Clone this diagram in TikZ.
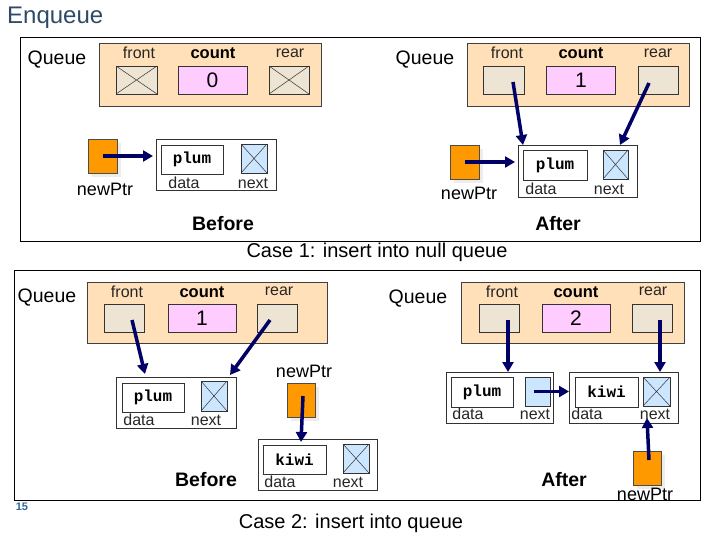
\documentclass[tikz,border=0pt]{standalone}
\usepackage{fontspec}
\setmainfont{Liberation Sans}
\setmonofont{Liberation Mono}
\usetikzlibrary{arrows.meta,shadows}
\definecolor{structfill}{HTML}{FFE0B8}
\definecolor{ptrfill}{HTML}{EEE4D3}
\definecolor{cntfill}{HTML}{FFCCFF}
\definecolor{nextfill}{HTML}{CCE6FF}
\definecolor{orangesq}{HTML}{FF9900}
\definecolor{navy}{HTML}{000066}
\definecolor{titleblue}{HTML}{2F4A66}
\definecolor{pageblue}{HTML}{336699}
\tikzset{
  box/.style={rectangle,inner sep=0pt,outer sep=0pt},
  frame/.style={draw=black,line width=0.9pt},
  qstruct/.style={box,draw=black!75,line width=0.6pt,fill=structfill},
  xcross/.style={path picture={\draw[black!80,line width=0.5pt]
     (path picture bounding box.north west)--(path picture bounding box.south east)
     (path picture bounding box.south west)--(path picture bounding box.north east);}},
  ptrbox/.style={box,draw=black!80,line width=0.6pt,fill=ptrfill},
  cntbox/.style={box,draw=black!80,line width=0.6pt,fill=cntfill,font=\fontsize{21}{23}\selectfont},
  nodebox/.style={box,draw=black!80,line width=0.7pt,fill=white},
  databox/.style={box,draw=black!80,line width=0.7pt,fill=white,font=\fontsize{16}{18}\selectfont\ttfamily\bfseries},
  nextbox/.style={box,draw=black!80,line width=0.6pt,fill=nextfill},
  sq/.style={box,draw=black!70,line width=0.6pt,fill=orangesq,minimum width=29pt,minimum height=34pt,
     drop shadow={fill=black!7,shadow xshift=4pt,shadow yshift=-4pt,opacity=1}},
  flabel/.style={inner sep=0pt,font=\fontsize{16}{18}\selectfont,text=black!85},
  clabel/.style={inner sep=0pt,font=\fontsize{16.5}{18}\selectfont\bfseries},
  qlabel/.style={inner sep=0pt,font=\fontsize{19.5}{21}\selectfont},
  plabel/.style={inner sep=0pt,font=\fontsize{18}{20}\selectfont},
  blabel/.style={inner sep=0pt,font=\fontsize{19.5}{21}\selectfont\bfseries},
  caselabel/.style={inner sep=0pt,font=\fontsize{20}{22}\selectfont},
  arr/.style={draw=navy,line width=3.5pt,-{Triangle[length=10pt,width=11pt]}},
}
\begin{document}
\begin{tikzpicture}[x=1pt,y=-1pt]
\useasboundingbox (0,0) rectangle (720,540);
% title
\node[anchor=west,inner sep=0pt,font=\fontsize{24}{26}\selectfont,text=titleblue] (title) at (7,18) {Enqueue};
% frames
\draw[frame] (20,37) rectangle (700,241);
\draw[frame] (14,270) rectangle (700,500);

% ===== Case 1 Before =====
\node[qlabel] (qA) at (57,60) {Queue};
\node[qstruct,minimum width=222pt,minimum height=63pt] (sA) at (210,74.5) {};
\node[flabel] (fAl) at (139,53) {front};
\node[ptrbox,xcross,minimum width=41pt,minimum height=28pt] (fA) at (136.5,80) {};
\node[clabel] (cAl) at (213,53) {count};
\node[cntbox,minimum width=69pt,minimum height=28pt] (cA) at (212.5,80) {0};
\node[flabel] (rAl) at (290,53) {rear};
\node[ptrbox,xcross,minimum width=40pt,minimum height=28pt] (rA) at (289,80) {};
\node[sq] (pA) at (102.5,156) {};
\node[plabel] (pAl) at (105,189) {newPtr};
\node[nodebox,minimum width=120pt,minimum height=51pt] (nA) at (216,164.5) {};
\node[databox,minimum width=62pt,minimum height=29pt] (dA) at (192,159.5) {plum};
\node[nextbox,xcross,minimum width=26pt,minimum height=29pt] (xA) at (254,158.5) {};
\node[flabel] (dAl) at (184,183) {data};
\node[flabel] (xAl) at (253,183) {next};
\draw[arr,shorten >=3pt] (pA.center) -- (pA.center -| nA.west);
\node[blabel] (befA) at (223,224) {Before};

% ===== Case 1 After =====
\node[qlabel] (qB) at (425,60) {Queue};
\node[qstruct,minimum width=222pt,minimum height=63pt] (sB) at (578,74.5) {};
\node[flabel] (fBl) at (507,53) {front};
\node[ptrbox,minimum width=41pt,minimum height=28pt] (fB) at (504,80) {};
\node[clabel] (cBl) at (581,53) {count};
\node[cntbox,minimum width=69pt,minimum height=28pt] (cB) at (581,80) {1};
\node[flabel] (rBl) at (658,53) {rear};
\node[ptrbox,minimum width=40pt,minimum height=28pt] (rB) at (658,80) {};
\node[sq] (pB) at (464.5,162) {};
\node[plabel] (pBl) at (469,193) {newPtr};
\node[nodebox,minimum width=119pt,minimum height=52pt] (nB) at (577.5,171) {};
\node[databox,minimum width=64pt,minimum height=30pt] (dB) at (555,165) {plum};
\node[nextbox,xcross,minimum width=25pt,minimum height=29pt] (xB) at (615.5,164.5) {};
\node[flabel] (dBl) at (541,189) {data};
\node[flabel] (xBl) at (609,189) {next};
\draw[arr,shorten >=3pt] (pB.center) -- (pB.center -| nB.west);
\draw[arr] ([xshift=9pt,yshift=-2pt]fB.center) -- ([xshift=5pt]nB.north west);
\draw[arr] ([xshift=-9pt,yshift=-3pt]rB.center) -- ([xshift=-17pt]nB.north east);
\node[blabel] (aftB) at (558,224) {After};
\node[caselabel] (case1) at (377,252) {Case 1: insert into null queue};

% ===== Case 2 Before =====
\node[qlabel] (qC) at (47,298) {Queue};
\node[qstruct,minimum width=240pt,minimum height=61pt] (sC) at (207,312.5) {};
\node[flabel] (fCl) at (127,292) {front};
\node[ptrbox,minimum width=40pt,minimum height=28pt] (fC) at (124,318) {};
\node[clabel] (cCl) at (202,292) {count};
\node[cntbox,minimum width=68pt,minimum height=28pt] (cC) at (202,318) {1};
\node[flabel] (rCl) at (279,291) {rear};
\node[ptrbox,minimum width=40pt,minimum height=28pt] (rC) at (277,318) {};
\node[nodebox,minimum width=120pt,minimum height=51pt] (nC) at (176,402.5) {};
\node[databox,minimum width=62pt,minimum height=29pt] (dC) at (153,397.5) {plum};
\node[nextbox,xcross,minimum width=26pt,minimum height=30pt] (xC) at (214,396) {};
\node[flabel] (dCl) at (139,420) {data};
\node[flabel] (xCl) at (206,420) {next};
\draw[arr] ([xshift=8pt,yshift=-2pt]fC.center) -- ([xshift=29pt,yshift=3pt]nC.north west);
\draw[arr] ([xshift=-7pt,yshift=-2pt]rC.center) -- ([xshift=-6pt,yshift=2pt]nC.north east);
\node[plabel] (pCl) at (304,371) {newPtr};
\node[sq,minimum width=28pt] (pC) at (301,400) {};
\node[nodebox,minimum width=119pt,minimum height=51pt] (kC) at (317.5,464.5) {};
\node[databox,minimum width=63pt,minimum height=29pt] (kdC) at (294.5,459.5) {kiwi};
\node[nextbox,xcross,minimum width=26pt,minimum height=29pt] (kxC) at (356,458.5) {};
\node[flabel] (kdCl) at (280,482) {data};
\node[flabel] (kxCl) at (348,482) {next};
\draw[arr] ([xshift=2pt,yshift=4pt]pC.center) -- ([yshift=-3pt]kC.north -| pC.center);
\node[blabel] (befC) at (206,480) {Before};

% ===== Case 2 After =====
\node[qlabel] (qD) at (418,299) {Queue};
\node[qstruct,minimum width=223pt,minimum height=61pt] (sD) at (572.5,312.5) {};
\node[flabel] (fDl) at (502,292) {front};
\node[ptrbox,minimum width=40pt,minimum height=28pt] (fD) at (499,318) {};
\node[clabel] (cDl) at (576,292) {count};
\node[cntbox,minimum width=68pt,minimum height=28pt] (cD) at (576,318) {2};
\node[flabel] (rDl) at (653,291) {rear};
\node[ptrbox,minimum width=40pt,minimum height=28pt] (rD) at (652,318) {};
\node[nodebox,minimum width=107pt,minimum height=51pt] (nD) at (499.5,397.5) {};
\node[databox,minimum width=62pt,minimum height=30pt] (dD) at (482,392) {plum};
\node[nextbox,minimum width=25pt,minimum height=29pt] (xD) at (537.5,391.5) {};
\node[nodebox,minimum width=109pt,minimum height=51pt] (kD) at (623.5,397.5) {};
\node[databox,minimum width=63pt,minimum height=30pt] (kdD) at (606.5,392) {kiwi};
\node[nextbox,xcross,minimum width=27pt,minimum height=29pt] (kxD) at (656.5,391.5) {};
\node[flabel] (dDl) at (468,414) {data};
\node[flabel] (xDl) at (535,414) {next};
\node[flabel] (kdDl) at (587,414) {data};
\node[flabel] (kxDl) at (655,414) {next};
\coordinate (fDs) at ([xshift=9pt,yshift=-2pt]fD.center);
\coordinate (rDs) at ([xshift=8pt,yshift=-2pt]rD.center);
\draw[arr] (fDs) -- (fDs |- nD.north);
\draw[arr] (rDs) -- (rDs |- kD.north);
\draw[arr] ([xshift=-4pt]xD.center) -- (xD.center -| kD.west);
\node[sq,minimum width=28pt] (pD) at (647,468) {};
\draw[arr] ([xshift=2pt,yshift=8pt]pD.center) -- ([yshift=5pt]kD.south -| pD.center);
\node[plabel] (pDl) at (645,494) {newPtr};
\node[blabel] (aftD) at (564,480) {After};
\node[caselabel] (case2) at (351,523) {Case 2: insert into queue};
\node[inner sep=0pt,font=\fontsize{11}{12}\selectfont\bfseries,text=pageblue] (pg) at (22,507) {15};
\end{tikzpicture}
\end{document}
